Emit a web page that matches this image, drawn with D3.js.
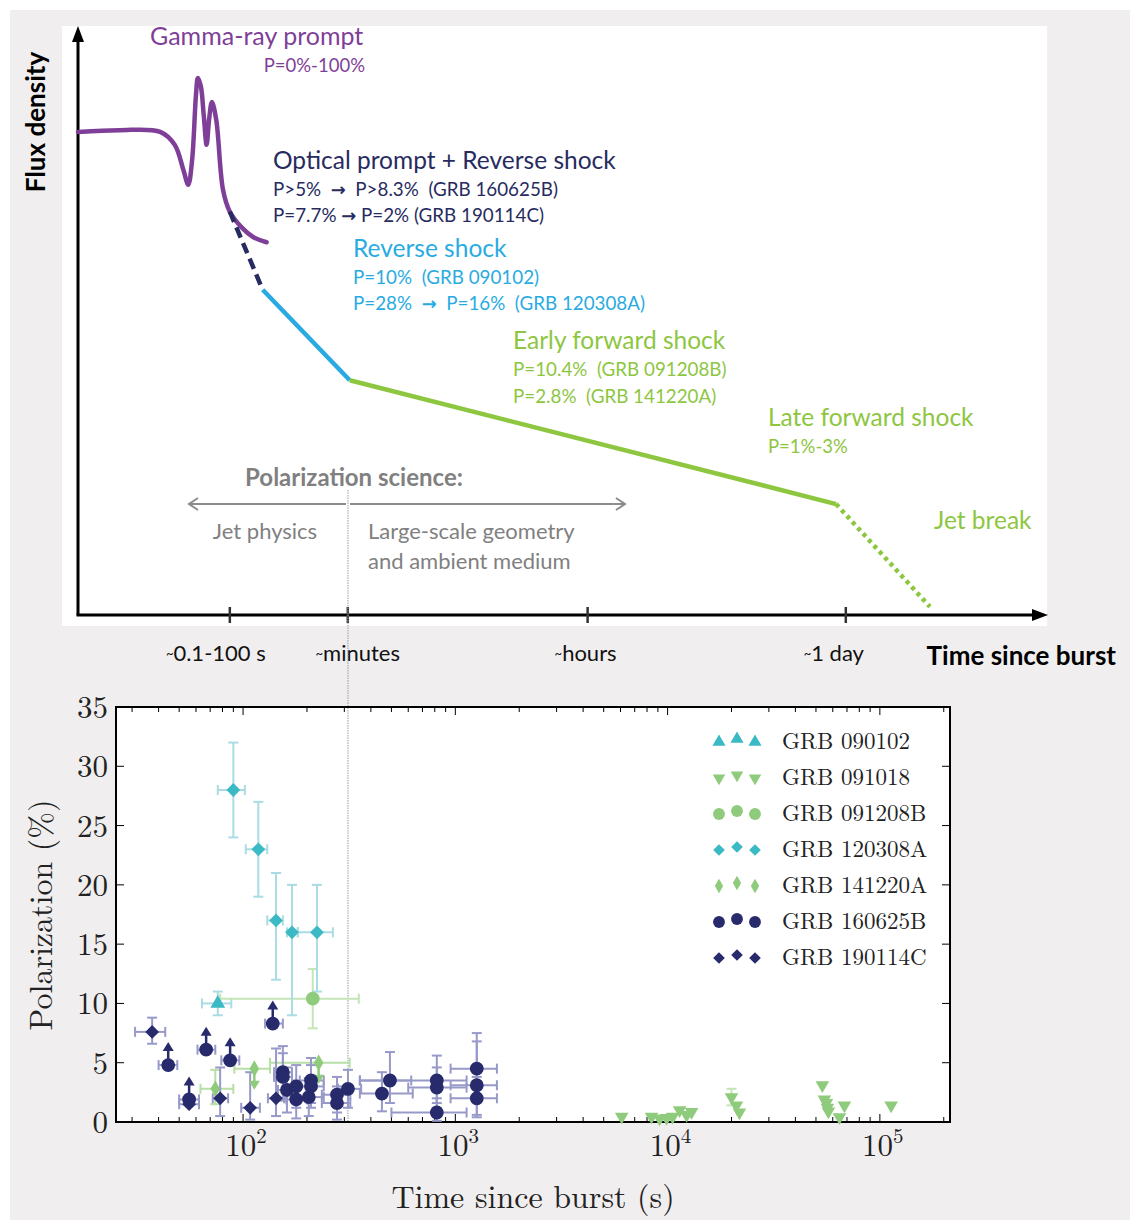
<!DOCTYPE html>
<html>
<head>
<meta charset="utf-8">
<script src="https://cdn.jsdelivr.net/npm/d3@7"></script>
<style>body{margin:0;background:#fff} text{white-space:pre}</style>
</head>
<body>
<script>
// ---------- schematic (top) data, arbitrary units 0-100 ----------
const stageTicks = [15.7, 27.9, 52.7, 79.4];
const stageLabels = ["0.1-100 s", "minutes", "hours", "1 day"];
const gammaCurve = [
  [0, 82.3], [4.3, 82.6], [8.5, 82.3], [10.0, 80.1], [10.9, 75.8], [11.4, 73.3],
  [11.8, 77.5], [12.2, 88.6], [12.4, 91.5], [12.7, 90.1], [13.0, 85.2], [13.3, 80.1],
  [13.55, 84.3], [13.85, 87.4], [14.3, 84.3], [15.0, 72.4], [15.7, 68.7],
  [17.0, 65.9], [18.1, 64.4], [19.5, 63.5]
];
const opticalDash = [[15.7, 68.7], [19.1, 55.4]];
const reverseLine = [[19.1, 55.4], [28.1, 40.0]];
const forwardLine = [[28.1, 40.0], [78.4, 18.9]];
const jetBreakLine = [[78.4, 18.9], [88.1, 1.4]];

// ---------- polarization plot data ----------
// rows: [time s, P %, tLo, tHi, pLo, pHi, limit]  limit: 1 lower limit, -1 upper limit
const polTicks = [0, 5, 10, 15, 20, 25, 30, 35];
const timeTicks = [100, 1000, 10000, 100000];
const timeExp = ["2", "3", "4", "5"];
const splitTime = 312;

const grb090102 = [[76, 10.0, 64, 88, 9.0, 11.0, 0]];
const grb091018 = [
  [6080, 0.45], [8400, 0.45], [9170, 0.3], [9890, 0.35], [10560, 0.45], [11390, 1.0],
  [12290, 0.6], [12970, 0.85], [20000, 2.1, null, null, 1.4, 2.8], [21100, 1.4], [21800, 0.8],
  [53600, 3.1], [54800, 1.9], [56000, 1.6], [56600, 1.2], [57200, 0.9], [64500, 0.4],
  [68100, 1.4], [113000, 1.4]
];
const grb091208B = [[213, 10.4, 78, 351, 7.9, 12.9, 0]];
const grb120308A = [
  [90, 28, 76, 102, 24, 32, 0],
  [118, 23, 103, 130, 19, 27, 0],
  [143, 17, 130, 154, 12, 21, 0],
  [170, 16, 161, 181, 9, 20, 0],
  [223, 16, 181, 265, 11, 20, 0]
];
const grb141220A = [
  [74, 2.8, 63, 90, 1.5, 4.4, 0],
  [113, 4.5, 91, 134, null, null, -1],
  [227, 5.0, 134, 318, null, null, -1]
];
const grb160625B = [
  [44.4, 4.8, 40, 49, null, null, 1],
  [55.7, 1.9, 50, 62, null, null, 1],
  [67, 6.1, 61, 74, null, null, 1],
  [86.9, 5.2, 79, 96, null, null, 1],
  [138, 8.3, 127, 154, null, null, 1],
  [154, 4.2, 140, 170, 2.0, 6.4, 0],
  [154, 3.8, 140, 170, 1.8, 5.8, 0],
  [161, 2.7, 146, 178, 0.8, 4.6, 0],
  [178, 3.0, 160, 200, 1.2, 4.8, 0],
  [178, 1.9, 160, 200, 0.3, 3.5, 0],
  [209, 3.5, 185, 240, 1.6, 5.4, 0],
  [209, 3.0, 185, 240, 1.2, 4.8, 0],
  [204, 2.1, 180, 240, 0.5, 3.7, 0],
  [277, 2.3, 235, 320, 0.8, 3.8, 0],
  [277, 1.6, 235, 320, 0.2, 3.0, 0],
  [312, 2.8, 280, 360, 1.2, 4.4, 0],
  [451, 2.4, 355, 630, 0.9, 4.2, 0],
  [492, 3.5, 355, 620, 1.6, 5.9, 0],
  [818, 3.5, 355, 1130, 1.6, 5.6, 0],
  [818, 2.9, 600, 1130, 1.2, 4.6, 0],
  [818, 0.8, 500, 1130, 0.1, 2.0, 0],
  [1262, 4.5, 950, 1570, 1.8, 7.5, 0],
  [1262, 3.1, 950, 1570, 0.6, 6.8, 0],
  [1262, 2.0, 950, 1570, 0.4, 3.8, 0]
];
const grb190114C = [
  [37.3, 7.6, 31, 43, 6.6, 8.8, 0],
  [55.7, 1.5, 50, 62, null, null, 0],
  [78, 2.0, 72, 85, 0.5, 4.6, 0],
  [108, 1.2, 98, 120, 0.2, 4.2, 0],
  [143, 2.0, 131, 156, 0.5, 6.2, 0]
];

const grbNames = ["GRB 090102", "GRB 091018", "GRB 091208B", "GRB 120308A", "GRB 141220A", "GRB 160625B", "GRB 190114C"];
const grbData = [grb090102, grb091018, grb091208B, grb120308A, grb141220A, grb160625B, grb190114C];
const grbShapes = ["triangle", "triangleDown", "circle", "square45", "diamond", "circle", "square45"];

const cyan = "#3bb9c4", green = "#8fcb7c", navy = "#272a6b";
const grbColors = [cyan, green, green, cyan, green, navy, navy];
const errColors = ["#a9dce3", "#c4e5b7", "#c4e5b7", "#a9dce3", "#b7dfa6", "#9799c9", "#9799c9"];

const purple = "#7f3f98", navyText = "#272b60", sky = "#29abe2", lime = "#8dc63f", grayText = "#808080";

// ---------- svg ----------
const svg = d3.select("body").append("svg")
  .attr("width", 1134)
  .attr("height", 1222);

svg.append("rect").attr("x", 10).attr("y", 10).attr("width", 1120).attr("height", 1210)
  .attr("fill", "#f0eeee");
svg.append("rect").attr("x", 62).attr("y", 26).attr("width", 985).attr("height", 600)
  .attr("fill", "#fff");

// ---------- top schematic ----------
const sx = d3.scaleLinear().domain([0, 100]).range([78, 1045]);
const sy = d3.scaleLinear().domain([0, 100]).range([615, 28]);

const sans = "Lato, 'Open Sans', sans-serif";
const line = d3.line().x(d => sx(d[0])).y(d => sy(d[1]));

// axes with arrow heads
svg.append("line").attr("x1", sx(0)).attr("y1", sy(0)).attr("x2", sx(0)).attr("y2", 40)
  .attr("stroke", "#000").attr("stroke-width", 3);
svg.append("path").attr("d", `M${sx(0) - 6},42 L${sx(0) + 6},42 L${sx(0)},26 Z`).attr("fill", "#000");
svg.append("line").attr("x1", sx(0) - 1.5).attr("y1", sy(0)).attr("x2", 1034).attr("y2", sy(0))
  .attr("stroke", "#000").attr("stroke-width", 3);
svg.append("path").attr("d", `M1032,${sy(0) - 6} L1032,${sy(0) + 6} L1048,${sy(0)} Z`).attr("fill", "#000");

svg.append("g").selectAll("line")
  .data(stageTicks)
  .enter()
  .append("line")
  .attr("x1", d => sx(d)).attr("x2", d => sx(d))
  .attr("y1", sy(0) - 8).attr("y2", sy(0) + 8)
  .attr("stroke", "#333").attr("stroke-width", 2.5);

const stageShift = [-14, 10, -2, -12];
let stageText = svg.append("g")
  .attr("font-family", sans)
  .attr("font-size", 22)
  .attr("fill", "#111")
  .selectAll("text")
  .data(stageLabels)
  .enter()
  .append("text")
  .attr("x", (d, i) => sx(stageTicks[i]) + stageShift[i])
  .attr("y", 661)
  .attr("text-anchor", "middle");
stageText.append("tspan").attr("font-size", 13).attr("dy", -3).text("~");
stageText.append("tspan").attr("dy", 3).text(d => d);

svg.append("text").attr("x", 1116).attr("y", 665).attr("text-anchor", "end")
  .attr("font-family", sans).attr("font-weight", "bold").attr("font-size", 26)
  .attr("fill", "#000").text("Time since burst");
svg.append("text").attr("transform", "translate(45,122) rotate(-90)").attr("text-anchor", "middle")
  .attr("font-family", sans).attr("font-weight", "bold").attr("font-size", 26)
  .attr("fill", "#000").text("Flux density");

// curves
svg.append("path").datum(gammaCurve)
  .attr("d", line.curve(d3.curveCatmullRom.alpha(0.5)))
  .attr("fill", "none").attr("stroke", purple).attr("stroke-width", 4.5)
  .attr("stroke-linecap", "round").attr("stroke-linejoin", "round");
line.curve(d3.curveLinear);
svg.append("path").datum(opticalDash).attr("d", line)
  .attr("fill", "none").attr("stroke", navyText).attr("stroke-width", 4.5)
  .attr("stroke-dasharray", "11,6");
svg.append("path").datum(reverseLine).attr("d", line)
  .attr("fill", "none").attr("stroke", sky).attr("stroke-width", 4.5);
svg.append("path").datum(forwardLine).attr("d", line)
  .attr("fill", "none").attr("stroke", lime).attr("stroke-width", 4.5);
svg.append("path").datum(jetBreakLine).attr("d", line)
  .attr("fill", "none").attr("stroke", lime).attr("stroke-width", 4.5)
  .attr("stroke-dasharray", "4,4");

function label(x, y, txt, color, size, anchor, weight) {
  let t = svg.append("text").attr("x", x).attr("y", y)
    .attr("text-anchor", anchor || "start")
    .attr("font-family", sans)
    .attr("font-size", size)
    .attr("font-weight", weight || "normal")
    .attr("fill", color)
    .attr("xml:space", "preserve");
  // arrows drawn heavier, like the original
  txt.split("\u2192").forEach(function (part, i) {
    if (i > 0) t.append("tspan").attr("font-weight", "bold").attr("font-family", "'DejaVu Sans'").attr("font-size", size * 0.95).text("\u2192");
    t.append("tspan").text(part);
  });
}
label(150, 45, "Gamma-ray prompt", purple, 25);
label(365, 72, "P=0%-100%", purple, 18.5, "end");
label(273, 169, "Optical prompt + Reverse shock", navyText, 24.5);
label(273, 196, "P>5%  \u2192  P>8.3%  (GRB 160625B)", navyText, 18.8);
label(273, 222, "P=7.7% \u2192 P=2% (GRB 190114C)", navyText, 18.8);
label(353, 257, "Reverse shock", sky, 24.5);
label(353, 284, "P=10%  (GRB 090102)", sky, 18.8);
label(353, 310, "P=28%  \u2192  P=16%  (GRB 120308A)", sky, 18.8);
label(513, 349, "Early forward shock", lime, 24.5);
label(513, 376, "P=10.4%  (GRB 091208B)", lime, 18.8);
label(513, 403, "P=2.8%  (GRB 141220A)", lime, 18.8);
label(768, 426, "Late forward shock", lime, 24.5);
label(768, 453, "P=1%-3%", lime, 18.5);
label(934, 529, "Jet break", lime, 24.5);
label(354, 486, "Polarization science:", grayText, 24, "middle", "bold");
label(265, 539, "Jet physics", grayText, 22, "middle");
label(368, 539, "Large-scale geometry", grayText, 22);
label(368, 569, "and ambient medium", grayText, 22);

// polarization science arrows
const arrowY = 504;
svg.append("line").attr("x1", 346).attr("x2", 190).attr("y1", arrowY).attr("y2", arrowY)
  .attr("stroke", "#8c8c8c").attr("stroke-width", 2);
svg.append("path").attr("d", `M198,${arrowY - 6} L189,${arrowY} L198,${arrowY + 6}`)
  .attr("fill", "none").attr("stroke", "#8c8c8c").attr("stroke-width", 2);
svg.append("line").attr("x1", 350).attr("x2", 624).attr("y1", arrowY).attr("y2", arrowY)
  .attr("stroke", "#8c8c8c").attr("stroke-width", 2);
svg.append("path").attr("d", `M616,${arrowY - 6} L625,${arrowY} L616,${arrowY + 6}`)
  .attr("fill", "none").attr("stroke", "#8c8c8c").attr("stroke-width", 2);

// ---------- bottom plot ----------
const x = d3.scaleLog().domain([25.2, 2.14e5]).range([116, 950]);
const y = d3.scaleLinear().domain([0, 35]).range([1122, 707]);
const serif = "'Latin Modern Roman', 'Liberation Serif', 'DejaVu Serif', serif";

svg.append("rect").attr("x", x.range()[0]).attr("y", y.range()[1])
  .attr("width", x.range()[1] - x.range()[0]).attr("height", y.range()[0] - y.range()[1])
  .attr("fill", "#fff");

// vertical split line through both panels
svg.append("line").attr("x1", x(splitTime)).attr("x2", x(splitTime))
  .attr("y1", 490).attr("y2", y(0))
  .attr("stroke", "#9a9a9a").attr("stroke-width", 1).attr("stroke-dasharray", "1.5,1");

// ticks
const allTicks = x.ticks().filter(t => t >= x.domain()[0] && t <= x.domain()[1]);
const tickG = svg.append("g").attr("stroke", "#000").attr("stroke-width", 1);
allTicks.forEach(function (t) {
  const major = timeTicks.indexOf(t) >= 0;
  const len = major ? 8 : 5;
  tickG.append("line").attr("x1", x(t)).attr("x2", x(t)).attr("y1", y(0)).attr("y2", y(0) - len);
  tickG.append("line").attr("x1", x(t)).attr("x2", x(t)).attr("y1", y(35)).attr("y2", y(35) + len);
});
polTicks.forEach(function (p) {
  tickG.append("line").attr("x1", x.range()[0]).attr("x2", x.range()[0] + 8).attr("y1", y(p)).attr("y2", y(p));
  tickG.append("line").attr("x1", x.range()[1]).attr("x2", x.range()[1] - 8).attr("y1", y(p)).attr("y2", y(p));
});

svg.append("rect").attr("x", x.range()[0]).attr("y", y.range()[1])
  .attr("width", x.range()[1] - x.range()[0]).attr("height", y.range()[0] - y.range()[1])
  .attr("fill", "none").attr("stroke", "#000").attr("stroke-width", 2);

svg.append("g")
  .attr("font-family", serif).attr("font-size", 31).attr("fill", "#222")
  .selectAll("text")
  .data(polTicks)
  .enter()
  .append("text")
  .attr("x", x.range()[0] - 8)
  .attr("y", d => y(d) + 11)
  .attr("text-anchor", "end")
  .text(d => d);

let xl = svg.append("g")
  .attr("font-family", serif).attr("font-size", 31).attr("fill", "#222")
  .selectAll("text")
  .data(timeTicks)
  .enter()
  .append("text")
  .attr("x", d => x(d) + 3)
  .attr("y", 1156)
  .attr("text-anchor", "middle");
xl.append("tspan").text("10");
xl.append("tspan").attr("font-size", 21).attr("dy", -13).text((d, i) => timeExp[i]);

svg.append("text").attr("x", 533).attr("y", 1208).attr("text-anchor", "middle")
  .attr("font-family", serif).attr("font-size", 32).attr("fill", "#222")
  .text("Time since burst (s)");
svg.append("text").attr("transform", "translate(52,915) rotate(-90)").attr("text-anchor", "middle")
  .attr("font-family", serif).attr("font-size", 32).attr("fill", "#222")
  .text("Polarization (%)");

// marker shapes
function shapePath(shape, size) {
  if (shape === "circle") return d3.symbol(d3.symbolCircle, size)();
  if (shape === "triangle" || shape === "triangleDown") return d3.symbol(d3.symbolTriangle, size)();
  if (shape === "square45") return d3.symbol(d3.symbolSquare, size)();
  return d3.symbol(d3.symbolDiamond, size)();
}
function shapeRot(shape) {
  if (shape === "triangleDown") return " rotate(180)";
  if (shape === "square45") return " rotate(45)";
  return "";
}
const plotSize = {circle: 150, triangle: 95, triangleDown: 80, square45: 95, diamond: 80};
const legendSize = {circle: 110, triangle: 75, triangleDown: 68, square45: 68, diamond: 60};

// error bars
const errG = svg.append("g").attr("fill", "none").attr("stroke-width", 2);
grbData.forEach(function (rows, k) {
  rows.forEach(function (d) {
    const cx = x(d[0]), cy = y(d[1]);
    const c = errColors[k];
    if (d[2] != null) {
      errG.append("line").attr("x1", x(d[2])).attr("x2", x(d[3])).attr("y1", cy).attr("y2", cy).attr("stroke", c);
      errG.append("line").attr("x1", x(d[2])).attr("x2", x(d[2])).attr("y1", cy - 5).attr("y2", cy + 5).attr("stroke", c);
      errG.append("line").attr("x1", x(d[3])).attr("x2", x(d[3])).attr("y1", cy - 5).attr("y2", cy + 5).attr("stroke", c);
    }
    if (d[4] != null) {
      errG.append("line").attr("x1", cx).attr("x2", cx).attr("y1", y(d[4])).attr("y2", y(d[5])).attr("stroke", c);
      errG.append("line").attr("x1", cx - 5).attr("x2", cx + 5).attr("y1", y(d[4])).attr("y2", y(d[4])).attr("stroke", c);
      errG.append("line").attr("x1", cx - 5).attr("x2", cx + 5).attr("y1", y(d[5])).attr("y2", y(d[5])).attr("stroke", c);
    }
  });
});

// limit arrows and markers
const markG = svg.append("g");
grbData.forEach(function (rows, k) {
  rows.forEach(function (d) {
    const cx = x(d[0]), cy = y(d[1]);
    if (d[6] === 1) {
      markG.append("line").attr("x1", cx).attr("x2", cx).attr("y1", cy).attr("y2", cy - 15)
        .attr("stroke", grbColors[k]).attr("stroke-width", 2.5);
      markG.append("path").attr("d", `M${cx - 5.5},${cy - 14} L${cx + 5.5},${cy - 14} L${cx},${cy - 23} Z`)
        .attr("fill", grbColors[k]);
    } else if (d[6] === -1) {
      markG.append("line").attr("x1", cx).attr("x2", cx).attr("y1", cy).attr("y2", cy + 14)
        .attr("stroke", grbColors[k]).attr("stroke-width", 2.5);
      markG.append("path").attr("d", `M${cx - 5.5},${cy + 12} L${cx + 5.5},${cy + 12} L${cx},${cy + 21} Z`)
        .attr("fill", grbColors[k]);
    }
  });
  markG.selectAll(null)
    .data(rows)
    .enter()
    .append("path")
    .attr("d", shapePath(grbShapes[k], plotSize[grbShapes[k]]))
    .attr("transform", d => "translate(" + x(d[0]) + "," + y(d[1]) + ")" + shapeRot(grbShapes[k]))
    .attr("fill", grbColors[k]);
});

// legend
const legendOffsets = [1, -2, 1];
let legend = svg.append("g")
  .selectAll("g")
  .data(grbNames)
  .enter()
  .append("g")
  .attr("transform", (d, i) => "translate(0," + (741 + i * 36) + ")");

legendOffsets.forEach(function (dy, j) {
  legend.append("path")
    .attr("d", (d, i) => shapePath(grbShapes[i], legendSize[grbShapes[i]]))
    .attr("transform", (d, i) => "translate(" + (719 + j * 18) + "," + dy + ")" + shapeRot(grbShapes[i]))
    .attr("fill", (d, i) => grbColors[i]);
});
legend.append("text")
  .attr("x", 782)
  .attr("y", 8)
  .attr("font-family", serif)
  .attr("font-size", 23)
  .attr("fill", "#222")
  .text(d => d);
</script>
</body>
</html>
